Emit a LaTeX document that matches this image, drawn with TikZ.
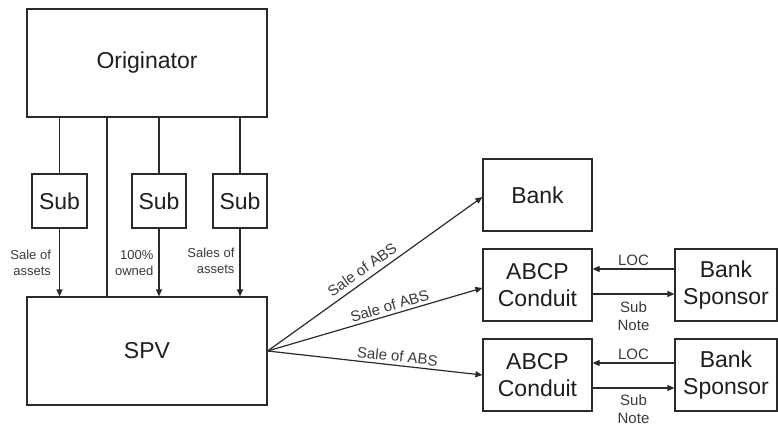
\documentclass[tikz,border=0pt]{standalone}
\usepackage{fontspec}
\setmainfont{Liberation Sans}
\usetikzlibrary{arrows.meta}
\definecolor{ln}{HTML}{2A2A2A}
\definecolor{tx}{HTML}{1E1E1E}
\definecolor{lb}{HTML}{3A3A3A}
\begin{document}
\begin{tikzpicture}[x=1pt,y=-1pt,
  box/.style={draw=ln,line width=1.2pt,text=tx,inner sep=0pt,align=center,font=\fontsize{23}{27}\selectfont},
  conn/.style={draw=ln,line width=1.2pt},
  arr/.style={conn,-{Triangle[length=7pt,width=6pt]}},
  sl/.style={text=lb,font=\fontsize{13}{16}\selectfont,align=right,inner sep=0pt},
  rl/.style={text=lb,font=\fontsize{15}{18}\selectfont,align=center,inner sep=0pt}]
\useasboundingbox (0,0) rectangle (778,428);
\node[box,minimum width=240,minimum height=108] (orig) at (147,63) {Originator};
\node[box,minimum width=55,minimum height=54] (sub1) at (59.5,201) {Sub};
\node[box,minimum width=54,minimum height=54] (sub2) at (159,201) {Sub};
\node[box,minimum width=54,minimum height=54] (sub3) at (240,201) {Sub};
\node[box,minimum width=240,minimum height=108] (spv) at (147,351) {SPV};
\node[box,minimum width=109,minimum height=72] (bank) at (537.5,195) {Bank};
\node[box,minimum width=109,minimum height=72] (c1) at (537.5,285) {ABCP\\Conduit};
\node[box,minimum width=109,minimum height=72] (c2) at (537.5,375) {ABCP\\Conduit};
\node[box,minimum width=102,minimum height=72] (s1) at (726,285) {Bank\\Sponsor};
\node[box,minimum width=102,minimum height=72] (s2) at (726,375) {Bank\\Sponsor};
\coordinate (d) at (107,0);
% originator to subs
\draw[conn] (sub1.north |- orig.south) -- (sub1.north);
\draw[conn] (sub2.north |- orig.south) -- (sub2.north);
\draw[conn] (sub3.north |- orig.south) -- (sub3.north);
\draw[conn] (orig.south -| d) -- (spv.north -| d);
% subs to SPV
\draw[arr] (sub1.south) -- node[sl,left=8pt] {Sale of\\assets} (sub1.south |- spv.north);
\draw[arr] (sub2.south) -- node[sl,left=5pt,yshift=-1pt] {100\%\\owned} (sub2.south |- spv.north);
\draw[arr] (sub3.south) -- node[sl,left=5pt,yshift=2pt] {Sales of\\assets} (sub3.south |- spv.north);
% SPV to right
\draw[arr] (spv.east) -- node[rl,pos=0.47,above=5pt,sloped] {Sale of ABS} ([yshift=-2pt]bank.west);
\draw[arr] (spv.east) -- node[rl,pos=0.58,above=3pt,sloped] {Sale of ABS} ([yshift=-3pt]c1.west);
\draw[arr] (spv.east) -- node[rl,pos=0.6,above=3pt,sloped] {Sale of ABS} (c2.west);
% LOC and sub notes
\draw[arr] ([yshift=16pt]s1.west) -- node[rl,above=3pt] {LOC} ([yshift=16pt]c1.east);
\draw[arr] ([yshift=-9pt]c1.east) -- node[rl,below=7pt] {Sub\\Note} ([yshift=-9pt]s1.west);
\draw[arr] ([yshift=12pt]s2.west) -- node[rl,above=3pt] {LOC} ([yshift=12pt]c2.east);
\draw[arr] ([yshift=-13pt]c2.east) -- node[rl,below=6pt] {Sub\\Note} ([yshift=-13pt]s2.west);
\end{tikzpicture}
\end{document}
